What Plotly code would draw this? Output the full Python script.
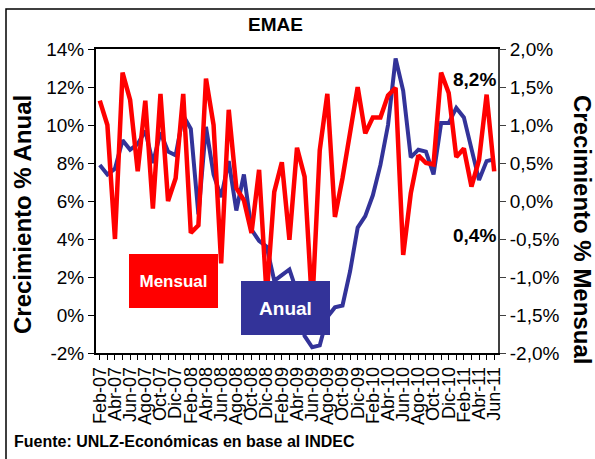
import plotly.graph_objects as go

months = ["Feb-07","Mar-07","Abr-07","May-07","Jun-07","Jul-07","Ago-07","Sep-07","Oct-07","Nov-07","Dic-07",
          "Ene-08","Feb-08","Mar-08","Abr-08","May-08","Jun-08","Jul-08","Ago-08","Sep-08","Oct-08","Nov-08","Dic-08",
          "Ene-09","Feb-09","Mar-09","Abr-09","May-09","Jun-09","Jul-09","Ago-09","Sep-09","Oct-09","Nov-09","Dic-09",
          "Ene-10","Feb-10","Mar-10","Abr-10","May-10","Jun-10","Jul-10","Ago-10","Sep-10","Oct-10","Nov-10","Dic-10",
          "Ene-11","Feb-11","Mar-11","Abr-11","May-11","Jun-11"]

anual = [7.9, 7.4, 7.7, 9.2, 8.7, 9.0, 9.7, 8.0, 9.6, 8.6, 8.4,
         10.5, 9.8, 5.3, 9.9, 7.4, 6.2, 8.1, 5.5, 7.4, 4.5, 3.9, 3.6,
         1.8, 2.1, 2.4, 1.2, -1.1, -1.7, -1.6, -0.1, 0.4, 0.5, 2.3, 4.6,
         5.2, 6.3, 7.9, 10.0, 13.5, 11.8, 8.3, 8.7, 8.6, 7.4, 10.1, 10.1,
         10.9, 10.4, 8.8, 7.1, 8.1, 8.2]

mensual = [1.32, 1.0, -0.5, 1.69, 1.33, 0.39, 1.32, -0.1, 1.41, 0.0, 0.3,
           1.41, -0.42, -0.32, 1.61, 1.0, -0.82, 1.2, 0.17, 0.01, -0.42, 0.41, -1.25,
           0.12, 0.51, -0.51, 0.70, 0.32, -1.4, 0.67, 1.41, -0.21, 0.30, 0.91, 1.50,
           0.89, 1.10, 1.10, 1.39, 1.49, -0.71, 0.1, 0.6, 0.5, 0.48, 1.69, 1.42,
           0.58, 0.69, 0.19, 0.54, 1.40, 0.39]

left_ticks = [-2, 0, 2, 4, 6, 8, 10, 12, 14]
right_ticks = [-2.0, -1.5, -1.0, -0.5, 0.0, 0.5, 1.0, 1.5, 2.0]

FONT = "Arial, Liberation Sans, sans-serif"
W, H = 595, 459
L, R, T, B = 96, 498, 49, 353

def px(x):
    return (x - L) / (R - L)

def py(y):
    return (B - y) / (B - T)

xidx = list(range(len(months)))
ticktext = [m if i % 2 == 0 else "" for i, m in enumerate(months)]

fig = go.Figure()
fig.add_trace(go.Scatter(x=xidx, y=anual, mode="lines", name="Anual",
                         line=dict(color="#333399", width=4), yaxis="y"))
fig.add_trace(go.Scatter(x=xidx, y=mensual, mode="lines", name="Mensual",
                         line=dict(color="#FF0000", width=4.5), yaxis="y2"))

fig.update_layout(
    width=W, height=H,
    margin=dict(l=L, r=W - R, t=T, b=H - B, pad=0, autoexpand=False),
    paper_bgcolor="white", plot_bgcolor="white",
    showlegend=False,
    font=dict(family=FONT, color="black"),
    xaxis=dict(range=[-0.5, len(months) - 0.5], tickmode="array", tickvals=xidx, ticktext=ticktext,
               tickangle=-90, ticks="outside", ticklen=5, tickcolor="black", tickwidth=1,
               showline=True, linecolor="black", linewidth=1.5, mirror=True, automargin=False,
               showgrid=False, zeroline=False, tickfont=dict(size=18, family=FONT)),
    yaxis=dict(range=[-2, 14], tickmode="array", tickvals=left_ticks,
               ticktext=[f"{v}%" for v in left_ticks], automargin=False,
               ticks="outside", ticklen=6, tickcolor="black", showline=True, linecolor="black",
               linewidth=2, showgrid=False, zeroline=False, tickfont=dict(size=19, family=FONT)),
    yaxis2=dict(range=[-2, 2], overlaying="y", side="right", tickmode="array", tickvals=right_ticks,
                ticktext=[(f"{v:.1f}%").replace(".", ",") for v in right_ticks], automargin=False,
                ticks="outside", ticklen=6, tickcolor="#404040", showline=True, linecolor="#404040",
                linewidth=2, showgrid=False, zeroline=False, tickfont=dict(size=19, family=FONT)),
)

def A(text, x, y, size, **kw):
    d = dict(text=text, x=px(x), y=py(y), xref="paper", yref="paper", showarrow=False,
             xanchor="center", yanchor="middle",
             font=dict(size=size, family=FONT, color=kw.pop("color", "black")))
    d.update(kw)
    return d

ann = [
    A("<b>EMAE</b>", 275, 25, 19),
    A("<b>Crecimiento % Anual</b>", 22, 215, 24, textangle=-90),
    A("<b>Crecimiento % Mensual</b>", 583, 229, 24, textangle=90),
    A("<b>Fuente: UNLZ-Económicas en base al INDEC</b>", 12, 442, 16, xanchor="left"),
    A("<b>8,2%</b>", 474, 79, 19),
    A("<b>0,4%</b>", 474, 235, 19),
    A("<b>Mensual</b>", 173, 281, 17, color="white", bgcolor="#FF0000", width=89, height=54,
      borderpad=0, borderwidth=0),
    A("<b>Anual</b>", 285, 308, 19, color="white", bgcolor="#333399", width=89, height=54,
      borderpad=0, borderwidth=0),
]
fig.update_layout(annotations=ann)

fig.add_shape(type="rect", xref="paper", yref="paper",
              x0=px(6), x1=px(620), y0=py(480), y1=py(9),
              line=dict(color="black", width=1.5), fillcolor="rgba(0,0,0,0)", layer="above")

fig.write_html("out.html", config={"displayModeBar": False},
               post_script="document.body.style.margin='0';document.body.style.overflow='hidden';")
